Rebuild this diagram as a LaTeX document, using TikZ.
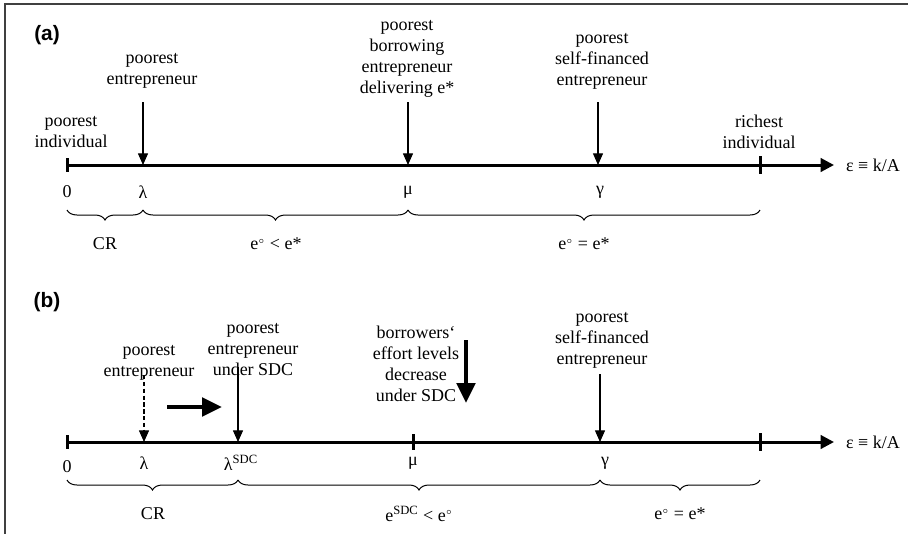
\documentclass[tikz,border=0pt]{standalone}
\usepackage{fontspec}
\setmainfont{Liberation Serif}
\setsansfont{Liberation Sans}
\usetikzlibrary{arrows.meta,positioning,calc,decorations.pathreplacing}
\newcommand{\degr}{$^{\scriptscriptstyle\circ}$}

\begin{document}
\begin{tikzpicture}[x=0.6pt,y=-0.6pt,
  every node/.style={font=\fontsize{10.8}{12.6}\selectfont,inner sep=1pt},
  lbl/.style={align=center},
  panel/.style={font=\sffamily\bfseries\fontsize{12.5}{14}\selectfont},
  axis/.style={line width=1.8pt,-{Triangle[length=8pt,width=8pt]}},
  tick/.style={line width=1.8pt},
  ptr/.style={line width=0.7pt,-{Triangle[length=7pt,width=6pt]}},
  bigptr/.style={line width=2.6pt,-{Triangle[length=12pt,width=11pt]}},
  brc/.style={decorate,decoration={brace,mirror,amplitude=6pt},line width=0.6pt}]
\useasboundingbox (0,0) rectangle (908,534);
% frame
\draw[line width=1.2pt,black!75] (908,4) -- (5,4) -- (5,534);

% ---- panel (a)
\node[panel] (pa) at (47,35) {(a)};
\coordinate (a0) at (67,165);
\coordinate (alam) at (143,165);
\coordinate (amu) at (408,165);
\coordinate (agam) at (598,165);
\coordinate (arich) at (760,165);
\coordinate (aend) at (834,165);
\draw[axis] (a0) -- (aend);
\draw[tick] ($(a0)+(0,-7)$) -- ($(a0)+(0,7)$);
\draw[tick] ($(arich)+(0,-9)$) -- ($(arich)+(0,9)$);
\node (aeps) at (873,165) {ε ≡ k/A};

\node[lbl] (apoor) at (71,132) {poorest\\individual};
\node[lbl] (alaml) at (152,71) {poorest\\entrepreneur};
\node[lbl] (amul) at (407,59) {poorest\\borrowing\\entrepreneur\\delivering e*};
\node[lbl] (agaml) at (602,61) {poorest\\self-financed\\entrepreneur};
\node[lbl] (arichl) at (759,132) {richest\\individual};
\coordinate (alamtop) at (143,102);
\coordinate (amutop) at (408,102);
\coordinate (agamtop) at (598,102);
\draw[ptr] (alamtop) -- (alam);
\draw[ptr] (amutop) -- (amu);
\draw[ptr] (agamtop) -- (agam);

\node (azero) at (67,192) {0};
\node (alamt) at (143,192) {λ};
\node (amut) at (408,192) {μ};
\node (agamt) at (600,192) {γ};

\draw[brc] (67,210) -- (143,210);
\draw[brc] (143,210) -- (408,210);
\draw[brc] (408,210) -- (760,210);
\node (acr) at (105,244) {CR};
\node (alow) at (276,244) {e\degr{} < e*};
\node (aeq) at (584,244) {e\degr{} = e*};

% ---- panel (b)
\node[panel] (pb) at (47,302) {(b)};
\coordinate (b0) at (67,442);
\coordinate (blam) at (144,442);
\coordinate (blsdc) at (238,442);
\coordinate (bmu) at (413,442);
\coordinate (bgam) at (600,442);
\coordinate (brich) at (760,442);
\coordinate (bend) at (834,442);
\draw[axis] (b0) -- (bend);
\draw[tick] ($(b0)+(0,-7)$) -- ($(b0)+(0,7)$);
\draw[tick] ($(bmu)+(0,-8)$) -- ($(bmu)+(0,8)$);
\draw[tick] ($(brich)+(0,-9)$) -- ($(brich)+(0,9)$);
\node (beps) at (873,442) {ε ≡ k/A};

\node[lbl] (blaml) at (149,363) {poorest\\entrepreneur};
\node[lbl] (blsdcl) at (253,350) {poorest\\entrepreneur\\under SDC};
\node[lbl] (beff) at (416,364) {borrowers‘\\effort levels\\decrease\\under SDC};
\node[lbl] (bgaml) at (602,340) {poorest\\self-financed\\entrepreneur};
\coordinate (blamtop) at (144,375);
\coordinate (blsdctop) at (238,367);
\coordinate (bgamtop) at (600,374);
\draw[ptr,dash pattern=on 2.6pt off 1.5pt] (blamtop) -- (blam);
\draw[ptr] (blsdctop) -- (blsdc);
\draw[ptr] (bgamtop) -- (bgam);
% shift of the threshold and fall in effort
\coordinate (shifts) at (167,407);
\coordinate (shifte) at (222,407);
\coordinate (effs) at (466,340);
\coordinate (effe) at (466,403);
\draw[bigptr] (shifts) -- (shifte);
\draw[bigptr] (effs) -- (effe);

\node (bzero) at (67,467) {0};
\node (blamt) at (144,463) {λ};
\node (blsdct) at (241,463) {λ\textsuperscript{SDC}};
\node (bmut) at (413,463) {μ};
\node (bgamt) at (605,463) {γ};

\draw[brc] (67,480) -- (238,480);
\draw[brc] (238,480) -- (600,480);
\draw[brc] (600,480) -- (760,480);
\node (bcr) at (153,514) {CR};
\node (blow) at (419,514) {e\textsuperscript{SDC} < e\degr};
\node (beq) at (680,514) {e\degr{} = e*};
\end{tikzpicture}
\end{document}
